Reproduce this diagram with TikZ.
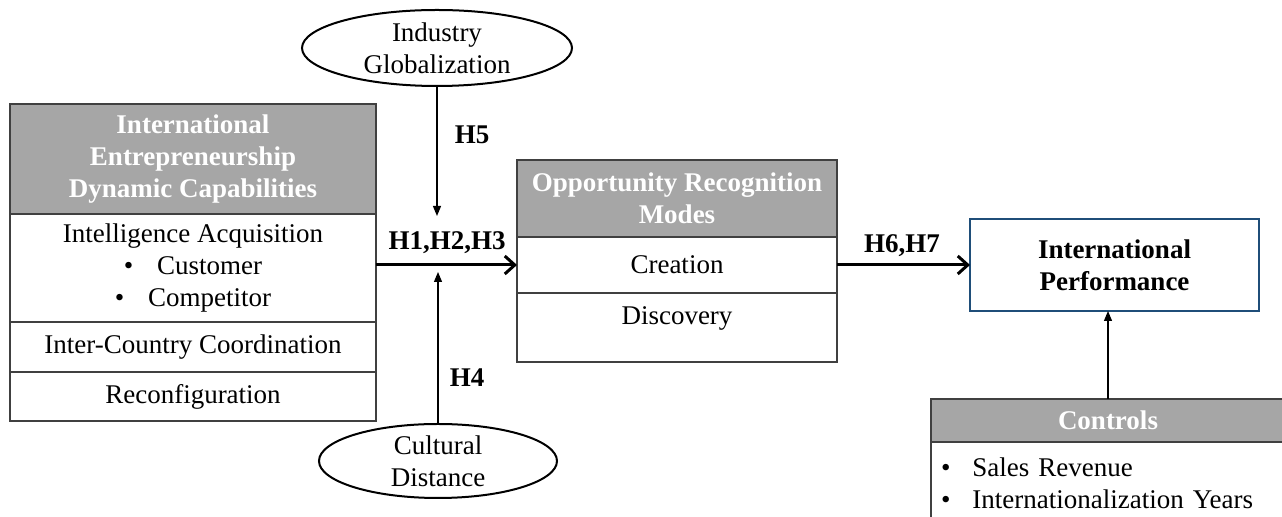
\documentclass[tikz,border=0pt]{standalone}
\usepackage{fontspec}
\setmainfont{Liberation Serif}
\usetikzlibrary{arrows.meta, positioning, shapes.geometric}
\definecolor{hdgray}{HTML}{A6A6A6}
\definecolor{perfblue}{HTML}{1F4E79}

\begin{document}
\begin{tikzpicture}[
	x=0.5pt, y=-0.5pt,
	node distance=0pt,
	every node/.style = {font=\fontsize{13.5}{16}\selectfont},
	box/.style = {draw=black!75, line width=0.75pt, outer sep=0pt, inner sep=2pt, align=center},
	hd/.style = {box, fill=hdgray, text=white, font=\fontsize{13.5}{16}\selectfont\bfseries},
	oval/.style = {draw, ellipse, line width=1pt, inner sep=-1.5pt, align=center},
	hyp/.style = {font=\fontsize{13.5}{16}\selectfont\bfseries},
	modarr/.style = {line width=0.6pt, -{Triangle[length=5pt,width=4pt]}},
	hyparr/.style = {line width=1.5pt, -{Straight Barb[length=5pt,width=9pt]}}
	]
	\clip (0,0) rectangle (1282,517);
%
	\node[hd, minimum width=183pt, minimum height=55pt, anchor=north] (iedc) at (193,104) {International\\Entrepreneurship\\Dynamic Capabilities};
	\node[box, minimum width=183pt, minimum height=54pt, below=of iedc] (ia) {Intelligence Acquisition\\ \textbullet\hspace{12pt}Customer\\ \textbullet\hspace{12pt}Competitor};
	\node[box, minimum width=183pt, minimum height=25pt, below=of ia] (icc) {Inter-Country Coordination};
	\node[box, minimum width=183pt, minimum height=24.5pt, below=of icc] (rec) {Reconfiguration};
%
	\node[hd, minimum width=160pt, minimum height=38.5pt, anchor=north] (orm) at (677,160) {Opportunity Recognition\\Modes};
	\node[box, minimum width=160pt, minimum height=28pt, below=of orm] (cr) {Creation};
	\node[box, minimum width=160pt, minimum height=34.5pt, text height=10pt, text depth=12.5pt, below=of cr] (dis) {Discovery};
%
	\node[box, draw=perfblue, line width=1pt, minimum width=144.5pt, minimum height=46pt, font=\fontsize{13.5}{16}\selectfont\bfseries] (perf) at (1114.5,265) {International\\Performance};
%
	\node[hd, minimum width=177pt, minimum height=21.5pt, anchor=north west] (ctl) at (931,399) {Controls};
	\node[box, minimum height=41pt, text width=167pt, inner xsep=5pt, align=left, anchor=north west] (ctlb) at (ctl.south west) {\textbullet\hspace{11pt}Sales Revenue\\ \textbullet\hspace{11pt}Internationalization Years};
%
	\node[oval, minimum width=135pt, minimum height=38pt] (ig) at (437,48) {Industry\\Globalization};
	\node[oval, minimum width=119pt, minimum height=37pt] (cd) at (438,461) {Cultural\\Distance};
%
	\coordinate (mt) at (438,216);
	\coordinate (mb) at (438,272);
	\draw[modarr] (ig.south) -- (ig.south |- mt);
	\draw[modarr] (cd.north) -- (cd.north |- mb);
	\draw[modarr] (ctl.north) -- (ctl.north |- perf.south);
%
	\draw[hyparr] (ia.east |- cr.west) -- (cr.west);
	\draw[hyparr] (cr.east) -- (perf.west);
%
	\node[hyp] (h5) at (472,135) {H5};
	\node[hyp] (h4) at (467,378) {H4};
	\node[hyp] (h123) at (447,243) {H1,H2,H3};
	\node[hyp] (h67) at (902,246) {H6,H7};
\end{tikzpicture}
\end{document}
